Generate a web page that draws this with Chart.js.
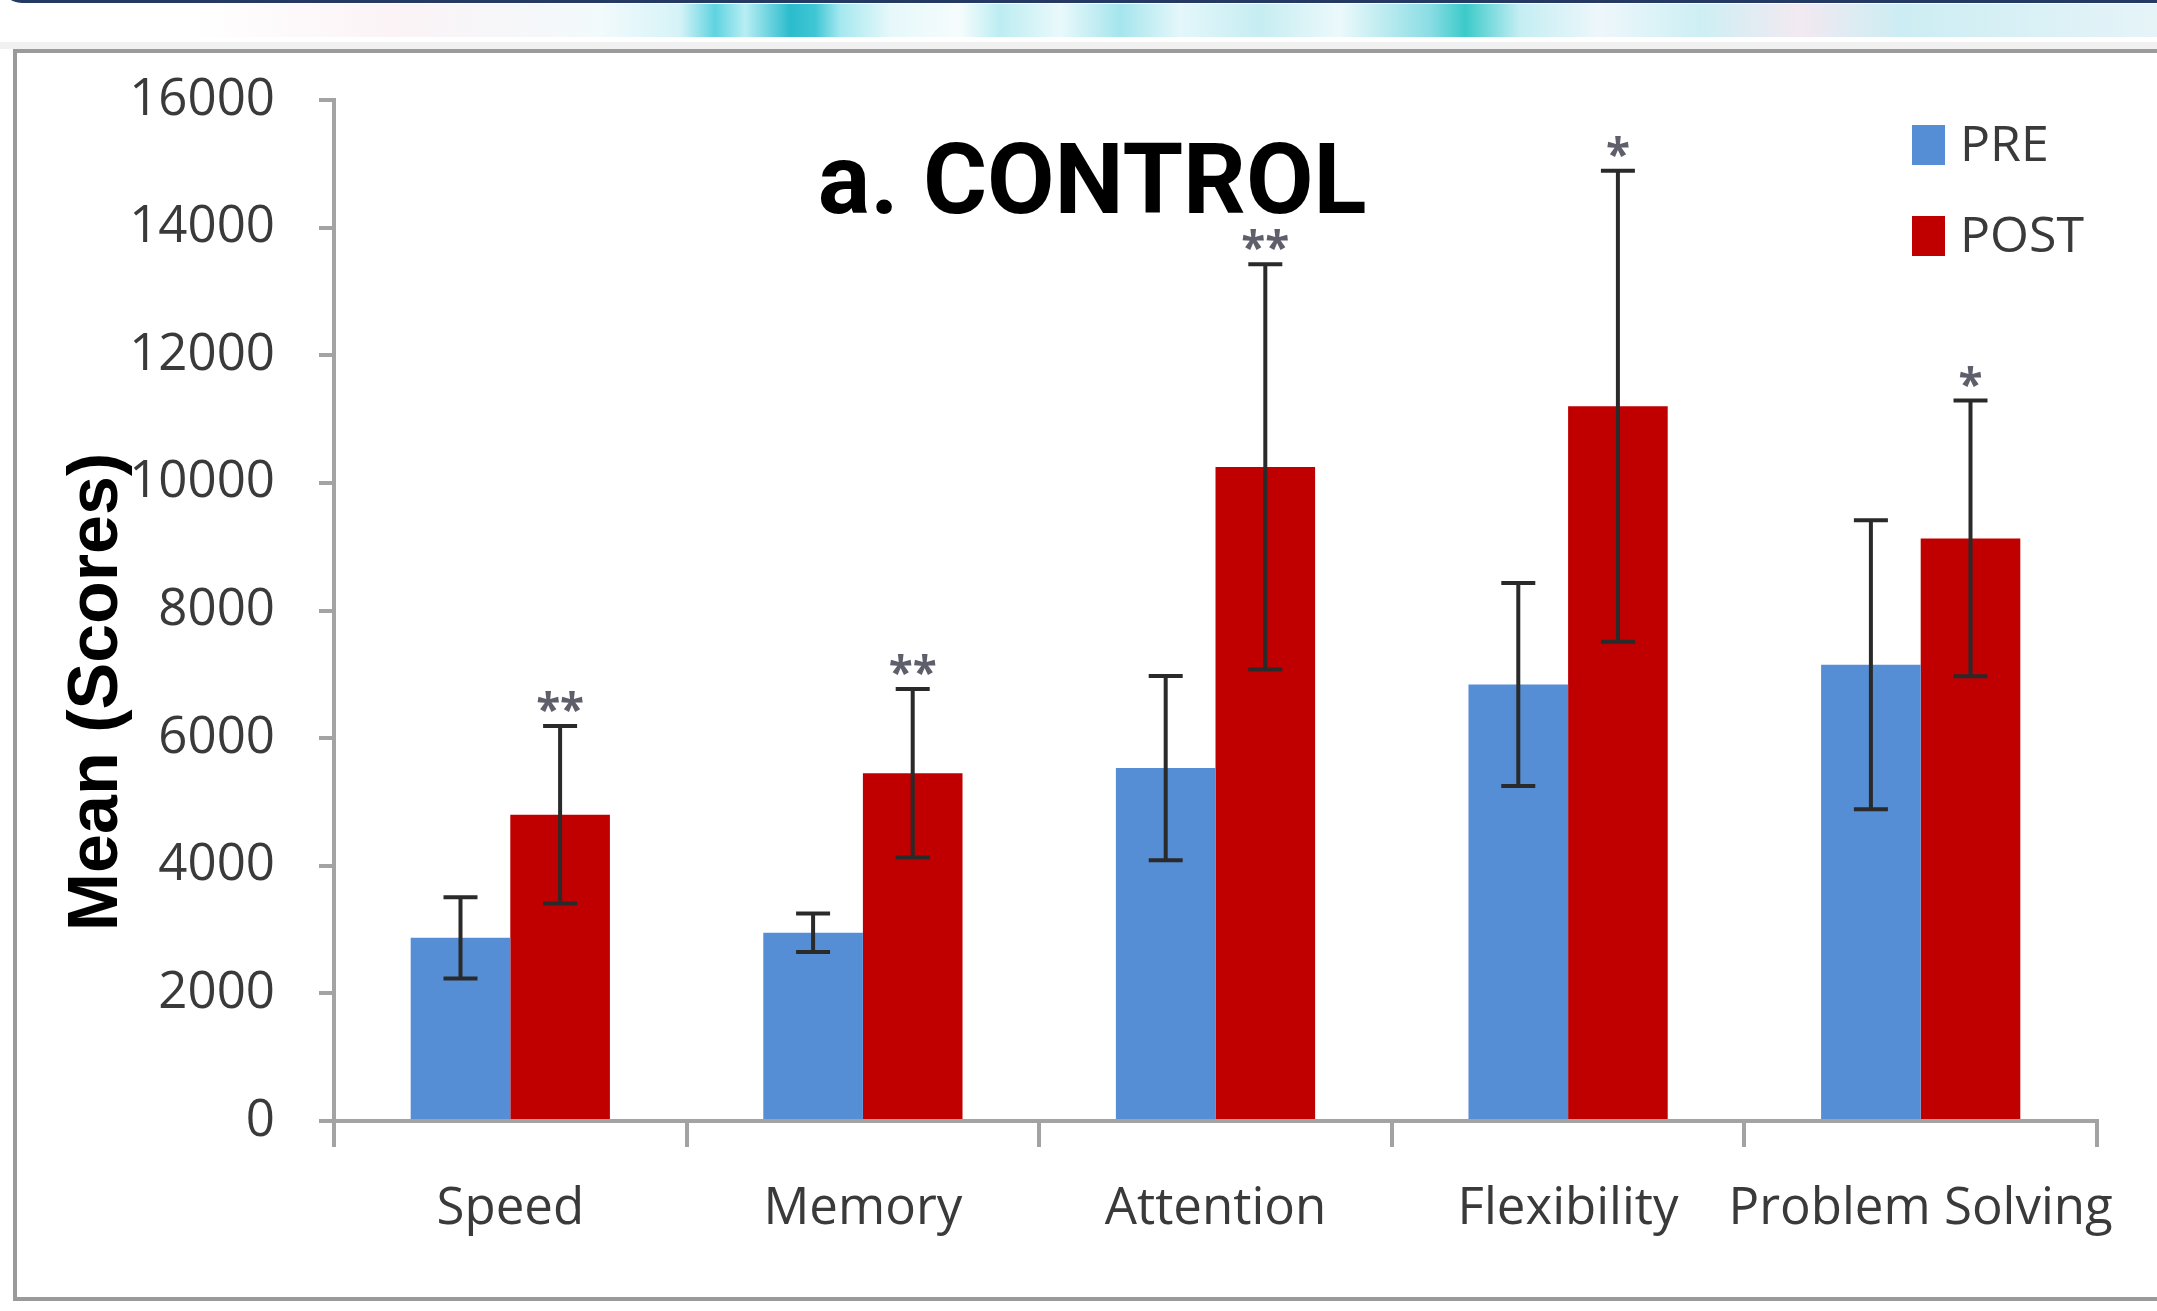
<!DOCTYPE html>
<html>
<head>
<meta charset="utf-8">
<title>a. CONTROL</title>
<script src="https://cdn.jsdelivr.net/npm/chart.js@4.4.0/dist/chart.umd.min.js"></script>
<style>
  html, body { margin: 0; padding: 0; background: #fff; }
  body { width: 2157px; height: 1311px; position: relative; overflow: hidden; }
  #topline { position: absolute; left: 0; top: -24px; width: 2300px; height: 24px;
    border-bottom: 3px solid #243a63; border-left: 3px solid #243a63; border-bottom-left-radius: 22px; }
  #band { position: absolute; left: 0; top: 4px; width: 2157px; height: 33px;
    background: linear-gradient(to right, #fff 0px, #fff 190px, #fbf3f6 400px, #f2fafc 600px,
      #d5f3f7 680px, #5fd3e0 715px, #b8eef4 745px, #2bbccd 790px, #3fc6d4 815px, #a4e8ef 840px,
      #e6f8fa 890px, #f6fcfd 960px, #bcedf2 1000px, #eaf9fb 1060px, #a5e5ed 1120px, #e4f7fa 1180px,
      #c6edf2 1260px, #ecf9fb 1340px, #8adde4 1430px, #3ccac9 1465px, #c4eef3 1520px,
      #eef7fb 1600px, #cdeff4 1700px, #f3e9f1 1800px, #ccedf3 1900px, #e6f4f8 2157px); }
  #strip { position: absolute; left: 0; top: 42px; width: 2157px; height: 7px; background: #f1f1f1; }
  #frame { position: absolute; left: 13px; top: 49px; width: 2300px; height: 1244px;
    border: 4px solid #9a9a9a; background: #fff; }
  #barChart { position: absolute; left: 0; top: 0; }
</style>
</head>
<body>
<div id="topline"></div>
<div id="band"></div>
<div id="strip"></div>
<div id="frame"></div>
<canvas id="barChart" width="2157" height="1311"></canvas>
<script>
'use strict';

// chart values
var categories = ['Speed', 'Memory', 'Attention', 'Flexibility', 'Problem Solving'];
var seriesNames = ['PRE', 'POST'];
var preValues = [2870, 2950, 5530, 6840, 7150];
var preErrors = [635, 300, 1445, 1590, 2265];
var postValues = [4800, 5450, 10250, 11200, 9130];
var postErrors = [1390, 1320, 3175, 3690, 2160];
var postSignificance = ['**', '**', '**', '*', '*'];
var yMin = 0;
var yMax = 16000;
var yStep = 2000;

var preColor = '#558ed5';
var postColor = '#c00000';
var axisColor = '#a3a3a3';
var textColor = '#3a3a3a';

/**
 * error bars and significance marks, placed through the y scale
 */
var errorBarPlugin = {
  id: 'errorBars',
  afterDatasetsDraw: function(chart) {
    var ctx = chart.ctx;
    var yScale = chart.scales.y;
    chart.data.datasets.forEach(function(ds, i) {
      var meta = chart.getDatasetMeta(i);
      meta.data.forEach(function(bar, j) {
        var v = ds.data[j], e = ds.errors[j];
        var top = yScale.getPixelForValue(v + e);
        var bottom = yScale.getPixelForValue(v - e);
        ctx.save();
        ctx.strokeStyle = '#2a2a2a';
        ctx.lineWidth = 4;
        ctx.beginPath();
        ctx.moveTo(bar.x, top); ctx.lineTo(bar.x, bottom);
        ctx.moveTo(bar.x - 17, top); ctx.lineTo(bar.x + 17, top);
        ctx.moveTo(bar.x - 17, bottom); ctx.lineTo(bar.x + 17, bottom);
        ctx.stroke();
        if (ds.marks && ds.marks[j]) {
          ctx.fillStyle = '#5f5f6c';
          ctx.font = 'bold 44px "Open Sans"';
          ctx.textAlign = 'center';
          ctx.textBaseline = 'alphabetic';
          ctx.fillText(ds.marks[j], bar.x, top - 1);
        }
        ctx.restore();
      });
    });
  }
};

/**
 * title, axis title and legend drawn inside the plot frame
 */
var labelsPlugin = {
  id: 'frameLabels',
  afterDraw: function(chart) {
    var ctx = chart.ctx;
    var area = chart.chartArea;
    ctx.save();

    ctx.fillStyle = '#000';
    ctx.font = 'bold 98px Roboto';
    ctx.textAlign = 'center';
    ctx.textBaseline = 'alphabetic';
    ctx.fillText('a. CONTROL', area.left + (area.right - area.left) * 0.43, 213);

    ctx.save();
    ctx.translate(117, 692);
    ctx.rotate(-Math.PI / 2);
    ctx.font = 'bold 70px "Liberation Sans"';
    ctx.fillText('Mean (Scores)', 0, 0);
    ctx.restore();

    var lx = area.right - 185;
    var rows = [145, 236];
    chart.data.datasets.forEach(function(ds, i) {
      ctx.fillStyle = ds.backgroundColor;
      ctx.fillRect(lx, rows[i] - 20, 33, 40);
      ctx.fillStyle = textColor;
      ctx.font = '50px "Open Sans"';
      ctx.textAlign = 'left';
      ctx.textBaseline = 'middle';
      ctx.fillText(ds.label, lx + 48, rows[i] + 2);
    });
    ctx.restore();
  }
};

var canvasContext = document.getElementById('barChart').getContext('2d');

new Chart(canvasContext, {
  type: 'bar',
  data: {
    labels: categories,
    datasets: [{
      label: seriesNames[0],
      data: preValues,
      errors: preErrors,
      backgroundColor: preColor,
      borderWidth: 0
    }, {
      label: seriesNames[1],
      data: postValues,
      errors: postErrors,
      marks: postSignificance,
      backgroundColor: postColor,
      borderWidth: 0
    }]
  },
  options: {
    responsive: false,
    animation: false,
    categoryPercentage: 0.565,
    barPercentage: 1.0,
    layout: { padding: { left: 0, right: 60, top: 100, bottom: 0 } },
    plugins: {
      legend: { display: false },
      tooltip: { enabled: false }
    },
    scales: {
      x: {
        grid: { drawOnChartArea: false, tickLength: 26, color: axisColor, lineWidth: 4, offset: true },
        border: { color: axisColor, width: 4 },
        ticks: { color: textColor, font: { family: 'Open Sans', size: 51 }, padding: 32, maxRotation: 0, autoSkip: false },
        afterFit: function(scale) { scale.height = 190; }
      },
      y: {
        min: yMin,
        max: yMax,
        grid: { drawOnChartArea: false, tickLength: 15, color: axisColor, lineWidth: 4 },
        border: { color: axisColor, width: 4 },
        ticks: {
          stepSize: yStep,
          color: textColor,
          font: { family: 'Open Sans', size: 51 },
          padding: 44,
          callback: function(value) { return String(value); }
        },
        afterFit: function(scale) { scale.width = 334; }
      }
    }
  },
  plugins: [errorBarPlugin, labelsPlugin]
});
</script>
</body>
</html>
